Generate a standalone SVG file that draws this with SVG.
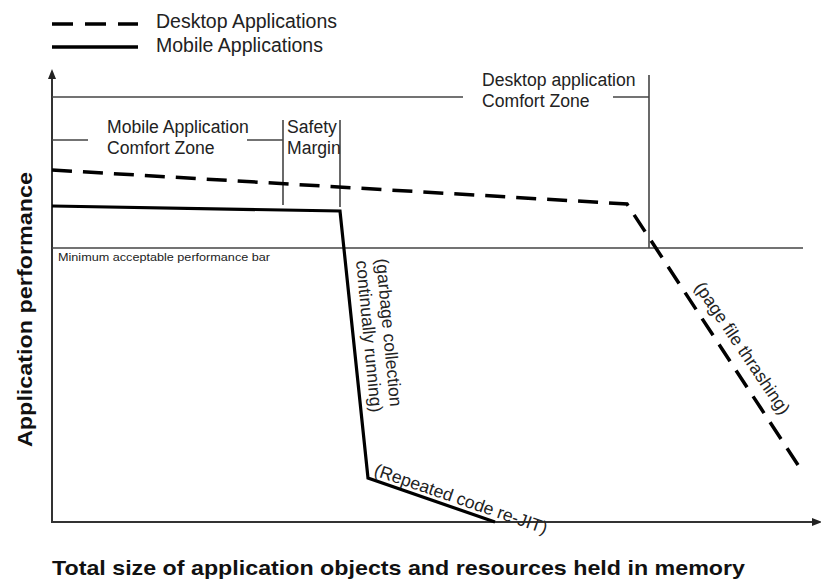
<svg xmlns="http://www.w3.org/2000/svg" width="821" height="583" viewBox="0 0 821 583">
<style>
  .t { font-family: "Liberation Sans", Arial, sans-serif; fill: #222; font-size: 17.6px; }
  .b { font-family: "Liberation Sans", Arial, sans-serif; fill: #111; font-weight: bold; }
  .ax { stroke: #333; stroke-width: 2; fill: none; }
  .thin { stroke: #444; stroke-width: 1.6; fill: none; }
  .desk { stroke: #000; stroke-width: 3.5; fill: none; stroke-dasharray: 20 11; }
  .mob { stroke: #000; stroke-width: 3.2; fill: none; stroke-linejoin: miter; }
</style>
<rect width="821" height="583" fill="#fff"/>

<g id="legend">
  <line x1="52" y1="24" x2="138" y2="24" stroke="#000" stroke-width="3.5" stroke-dasharray="21 12"/>
  <line x1="52" y1="47" x2="138" y2="47" stroke="#000" stroke-width="3.5"/>
  <text class="t" x="156" y="28" style="font-size:19.5px">Desktop Applications</text>
  <text class="t" x="156" y="52" style="font-size:19.5px">Mobile Applications</text>
</g>

<g id="axes">
  <line class="ax" x1="52" y1="77" x2="52" y2="522"/>
  <polygon points="52,69 48,79 56,79" fill="#222"/>
  <line class="ax" x1="51" y1="522" x2="814" y2="522"/>
  <polygon points="822,522 812,518 812,526" fill="#222"/>
  <text class="b" transform="translate(32,447) rotate(-90)" style="font-size:21px" textLength="275" lengthAdjust="spacingAndGlyphs">Application performance</text>
  <text class="b" x="52" y="575" style="font-size:21px" textLength="693" lengthAdjust="spacingAndGlyphs">Total size of application objects and resources held in memory</text>
</g>

<g id="desktop-zone">
  <polyline class="thin" points="52,97 463,97"/>
  <polyline class="thin" points="613,97 649,97"/>
  <line class="thin" x1="649" y1="75" x2="649" y2="248"/>
  <text class="t" x="482" y="86">Desktop application</text>
  <text class="t" x="482" y="107">Comfort Zone</text>
</g>

<g id="mobile-zone">
  <line class="thin" x1="52" y1="140" x2="88" y2="140"/>
  <line class="thin" x1="247" y1="140" x2="283" y2="140"/>
  <line class="thin" x1="283" y1="120" x2="283" y2="205"/>
  <text class="t" x="107" y="133">Mobile Application</text>
  <text class="t" x="107" y="154">Comfort Zone</text>
</g>

<g id="safety-margin">
  <line class="thin" x1="340" y1="120" x2="340" y2="207"/>
  <text class="t" x="287" y="133">Safety</text>
  <text class="t" x="287" y="154">Margin</text>
</g>

<g id="min-bar">
  <line class="thin" x1="52" y1="248" x2="803" y2="248"/>
  <text class="t" x="58" y="261" style="font-size:10.5px" textLength="212" lengthAdjust="spacingAndGlyphs">Minimum acceptable performance bar</text>
</g>

<g id="connectors">
  <polyline id="desktop-curve" class="desk" points="52,170 627,204 800,468"/>
  <polyline id="mobile-curve" class="mob" points="52,206 340,211 368,478 495,522"/>
</g>

<g id="curve-labels">
  <text class="t" transform="translate(376,259) rotate(84.5)"><tspan x="0" y="0">(garbage collection</tspan><tspan x="0" y="20">continually running)</tspan></text>
  <text class="t" transform="translate(373,475) rotate(19)">(Repeated code re-JIT)</text>
  <text class="t" transform="translate(694,287) rotate(56)">(page file thrashing)</text>
</g>
</svg>
